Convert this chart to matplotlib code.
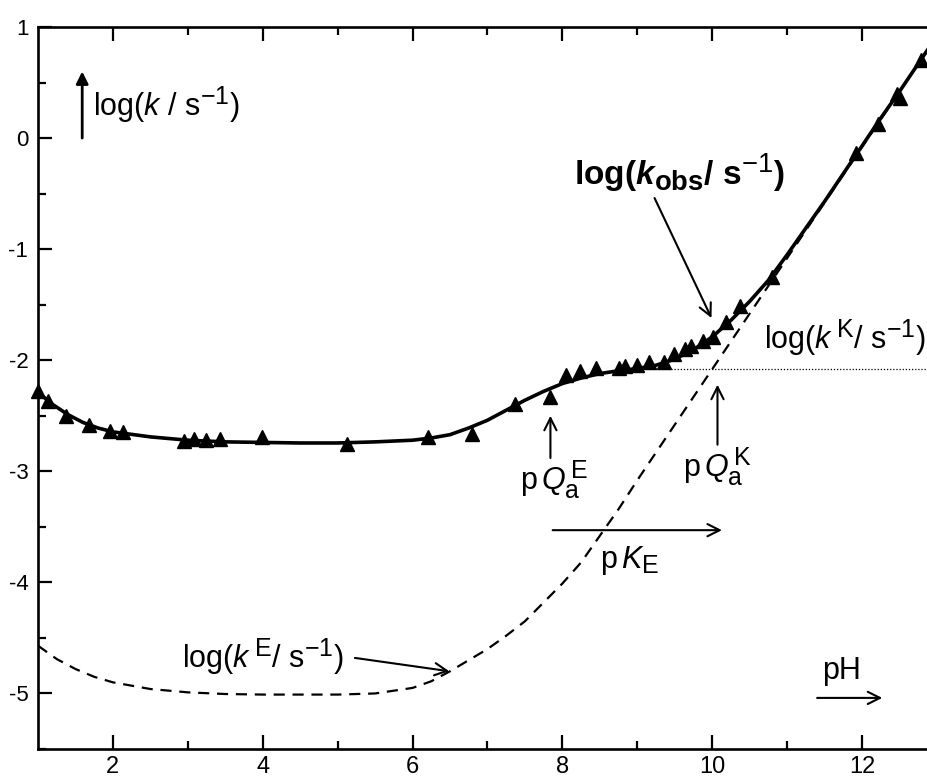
import numpy as np
import matplotlib
matplotlib.use('Agg')
import matplotlib.pyplot as plt
import matplotlib._mathtext as mt

# apici/pedici piu' grandi, come nell'originale
mt.SHRINK_FACTOR = 0.82

plt.rcParams['font.family'] = ['Liberation Sans', 'DejaVu Sans']
plt.rcParams['mathtext.fontset'] = 'custom'
plt.rcParams['mathtext.rm'] = 'Liberation Sans'
plt.rcParams['mathtext.it'] = 'Liberation Sans:italic'
plt.rcParams['mathtext.bf'] = 'Liberation Sans:bold'
plt.rcParams['mathtext.bfit'] = 'Liberation Sans:italic:bold'
plt.rcParams['axes.unicode_minus'] = False

# misure (triangoli)
pH_obs = [1.0, 1.13, 1.38, 1.68, 1.96, 2.13, 2.95, 3.08, 3.24, 3.43, 3.99, 5.12,
          6.21, 6.79, 7.37, 7.84, 8.05, 8.24, 8.45, 8.75, 8.84, 8.99, 9.16, 9.35,
          9.49, 9.63, 9.72, 9.88, 10.01, 10.19, 10.37, 10.80, 11.92, 12.21, 12.47,
          12.50, 12.78]
logk_obs = [-2.28, -2.37, -2.50, -2.58, -2.64, -2.65, -2.73, -2.71, -2.72, -2.71,
            -2.69, -2.75, -2.69, -2.66, -2.39, -2.33, -2.13, -2.10, -2.07, -2.07,
            -2.05, -2.04, -2.02, -2.02, -1.94, -1.90, -1.87, -1.83, -1.79, -1.66,
            -1.51, -1.25, -0.13, 0.13, 0.40, 0.36, 0.70]

# curva di fit kobs
pH_fit = [1.0, 1.2, 1.4, 1.6, 1.8, 2.0, 2.5, 3.0, 3.5, 4.0, 4.5, 5.0, 5.5, 6.0,
          6.25, 6.5, 6.75, 7.0, 7.25, 7.5, 7.75, 8.0, 8.25, 8.5, 8.75, 9.0, 9.25,
          9.5, 9.75, 10.0, 10.25, 10.5, 10.75, 11.0, 11.25, 11.5, 11.75, 12.0,
          12.25, 12.5, 12.75, 12.88]
logk_fit = [-2.29, -2.40, -2.49, -2.56, -2.61, -2.645, -2.69, -2.72, -2.735, -2.74,
            -2.745, -2.745, -2.735, -2.72, -2.70, -2.67, -2.61, -2.54, -2.45, -2.36,
            -2.28, -2.21, -2.16, -2.12, -2.095, -2.075, -2.045, -1.99, -1.905, -1.79,
            -1.64, -1.47, -1.28, -1.05, -0.81, -0.57, -0.32, -0.07, 0.18, 0.42,
            0.67, 0.80]

# kE (tratteggiata)
pH_E = [1.0, 1.25, 1.5, 1.75, 2.0, 2.5, 3.0, 3.5, 4.0, 5.0, 5.5, 6.0, 6.25, 6.5,
        6.75, 7.0, 7.25, 7.5, 7.75, 8.0, 8.25, 8.5, 8.75, 9.0, 9.5, 10.0, 10.5,
        11.0, 11.5, 12.0, 12.5, 12.88]
logk_E = [-4.57, -4.69, -4.78, -4.85, -4.90, -4.96, -4.99, -5.005, -5.01, -5.01,
          -5.00, -4.95, -4.89, -4.80, -4.70, -4.60, -4.48, -4.35, -4.18, -4.01,
          -3.82, -3.58, -3.34, -3.08, -2.58, -2.08, -1.58, -1.08, -0.58, -0.08,
          0.42, 0.80]

# kK (punteggiata)
pH_K = [9.15, 12.88]
logk_K = [-2.08, -2.08]

fig = plt.figure(figsize=(9.28, 7.78), dpi=100)
ax = fig.add_axes((38/928, 29/778, 890/928, 722/778))

ax.plot(pH_fit, logk_fit, color='black', lw=2.6, zorder=3)
ax.plot(pH_E, logk_E, color='black', lw=1.6, ls=(0, (5, 3.5)))
ax.plot(pH_K, logk_K, color='black', lw=0.9, ls=(0, (1, 1.5)))
ax.plot(pH_obs, logk_obs, '^', color='black', ms=10.5, zorder=4, clip_on=False)

ax.set_xlim(1, 12.88)
ax.set_ylim(-5.48, 1)
ax.set_xticks(np.arange(2, 13, 2))
ax.set_xticks(np.arange(3, 13, 2), minor=True)
ax.set_yticks(np.arange(-5, 2, 1))
ax.set_yticks(np.arange(-5.5, 1, 0.5), minor=True)
ax.tick_params(which='both', direction='in', top=True, right=False, width=1.6)
ax.tick_params(which='major', length=10)
ax.tick_params(which='minor', length=6)
ax.tick_params(axis='x', labelsize=17, pad=5)
ax.tick_params(axis='y', labelsize=16, pad=7)
for s in ['left', 'bottom', 'top']:
    ax.spines[s].set_linewidth(1.9)
ax.spines['right'].set_visible(False)

fs = 22
arr = dict(arrowstyle='->', color='black', lw=1.5, mutation_scale=22, shrinkA=0, shrinkB=0)

# asse y
ax.annotate('', xy=(1.59, 0.60), xytext=(1.59, 0.0),
            arrowprops=dict(arrowstyle='-|>', color='black', lw=2, mutation_scale=18,
                            shrinkA=0, shrinkB=0))
ax.text(1.74, 0.30, r'log($\mathit{k}$ / s$^{-1}$)', fontsize=fs, va='center')

# kobs
ax.text(8.16, -0.31, r'log($\mathbfit{k}_{\mathbf{obs}}$/ s$^{-1}$)', fontsize=fs + 2,
        fontweight='bold', va='center')
ax.annotate('', xy=(9.99, -1.62), xytext=(9.23, -0.54), arrowprops=arr)

# kK
ax.text(10.69, -1.80, r'log($\mathit{k}^{\,\mathrm{K}}$/ s$^{-1}$)', fontsize=fs, va='center')

# pQa
ax.annotate('', xy=(7.84, -2.50), xytext=(7.84, -2.88), arrowprops=arr)
ax.text(7.89, -3.08, r'p$\,\mathit{Q}_{\mathrm{a}}^{\,\mathrm{E}}$', fontsize=fs,
        ha='center', va='center')
ax.annotate('', xy=(10.07, -2.22), xytext=(10.07, -2.76), arrowprops=arr)
ax.text(10.07, -2.96, r'p$\,\mathit{Q}_{\mathrm{a}}^{\,\mathrm{K}}$', fontsize=fs,
        ha='center', va='center')

# pKE
ax.annotate('', xy=(10.13, -3.53), xytext=(7.87, -3.53), arrowprops=arr)
ax.text(8.89, -3.80, r'p$\,\mathit{K}_{\mathrm{E}}$', fontsize=fs, ha='center', va='center')

# kE
ax.text(2.92, -4.67, r'log($\mathit{k}^{\,\mathrm{E}}$/ s$^{-1}$)', fontsize=fs, va='center')
ax.annotate('', xy=(6.49, -4.80), xytext=(5.23, -4.68), arrowprops=arr)

# pH
ax.text(11.73, -4.80, 'pH', fontsize=fs, ha='center', va='center')
ax.annotate('', xy=(12.27, -5.04), xytext=(11.40, -5.04), arrowprops=arr)

plt.savefig('out.png', dpi=100)
